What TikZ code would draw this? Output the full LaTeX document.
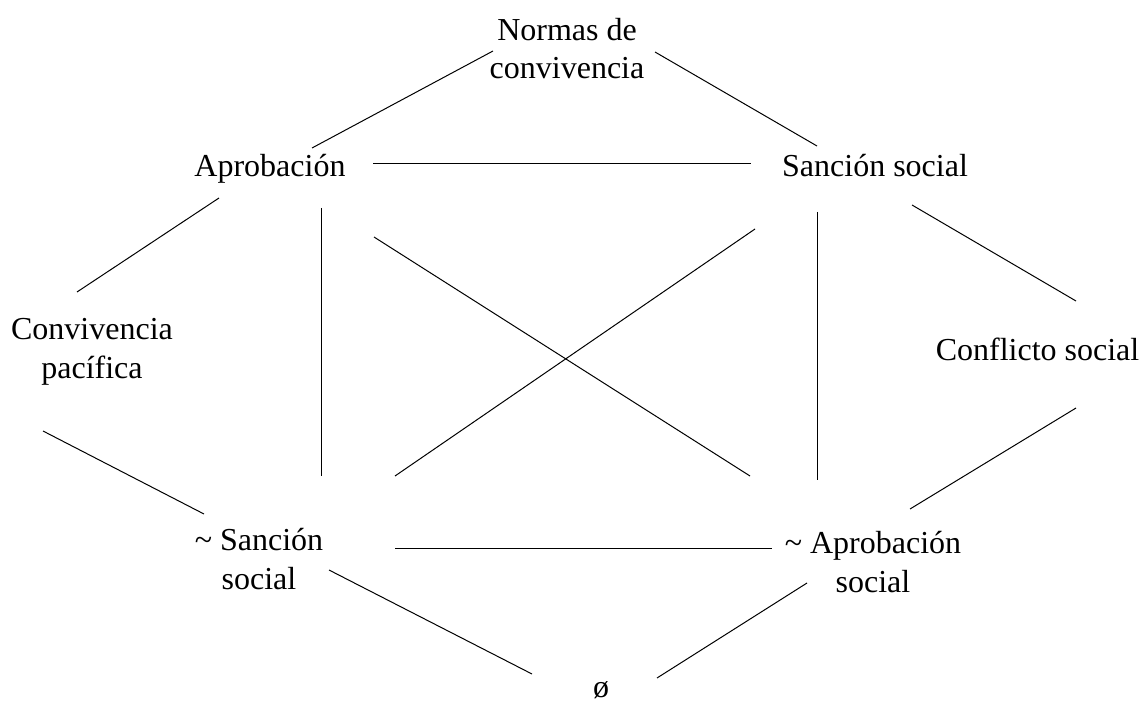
\documentclass[tikz,border=0pt]{standalone}
\usepackage{fontspec}
\setmainfont{Liberation Serif}
\begin{document}
\begin{tikzpicture}[x=0.75pt, y=-0.75pt, line width=0.75pt,
                    every node/.style={inner sep=0pt, align=center, anchor=base,
                                       font=\fontsize{24}{29}\selectfont}]
\useasboundingbox (0,0) rectangle (1144,702);
\node (normas)    at (567,79)    {Normas de\\convivencia};
\node (aprob)     at (270,177)   {Aprobación};
\node (sancion)   at (875,177)   {Sanción social};
\node (conviv)    at (92,378)    {Convivencia\\pacífica};
\node (conflicto) at (1037.5,360) {Conflicto social};
\node (nosancion) at (259,589)   {\textasciitilde\ Sanción\\social};
\node (noaprob)   at (873,592)   {\textasciitilde\ Aprobación\\social};
\node (vacio)     at (601,697)   {ø};
\draw ([shift={(-74,-28)}]normas.base) -- ([shift={(42,-29)}]aprob.base);
\draw ([shift={(88,-27)}]normas.base) -- ([shift={(-58,-31)}]sancion.base);
\draw ([shift={(103,-13)}]aprob.base) -- ([shift={(-124,-13)}]sancion.base);
\draw ([shift={(-51,21)}]aprob.base) -- ([shift={(-15,-86)}]conviv.base);
\draw ([shift={(37,28)}]sancion.base) -- ([shift={(38.5,-59)}]conflicto.base);
\draw ([shift={(-49,53)}]conviv.base) -- ([shift={(-55,-75)}]nosancion.base);
\draw ([shift={(38.5,48)}]conflicto.base) -- ([shift={(37,-83)}]noaprob.base);
\draw ([shift={(51,31)}]aprob.base) -- ([shift={(62,-113)}]nosancion.base);
\draw ([shift={(-58,35)}]sancion.base) -- ([shift={(-56,-112)}]noaprob.base);
\draw ([shift={(104,60)}]aprob.base) -- ([shift={(-123,-116)}]noaprob.base);
\draw ([shift={(-120,52)}]sancion.base) -- ([shift={(136,-113)}]nosancion.base);
\draw ([shift={(136,-41)}]nosancion.base) -- ([shift={(-101,-44)}]noaprob.base);
\draw ([shift={(70,-19)}]nosancion.base) -- ([shift={(-69,-23)}]vacio.base);
\draw ([shift={(-66,-9)}]noaprob.base) -- ([shift={(56,-19)}]vacio.base);
\end{tikzpicture}
\end{document}
